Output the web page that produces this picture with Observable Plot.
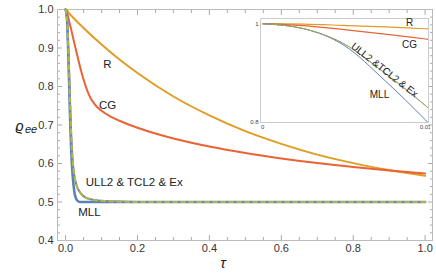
<!DOCTYPE html>
<html>
<head>
<meta charset="utf-8">
<script src="https://cdn.jsdelivr.net/npm/d3@7"></script>
<script src="https://cdn.jsdelivr.net/npm/@observablehq/plot@0.6"></script>
<style>
  html, body { margin: 0; padding: 0; background: white; }
  #wrap { position: relative; width: 436px; height: 276px; }
  #inset { position: absolute; left: 245px; top: 14px; }
</style>
</head>
<body>
<div id="wrap"><div id="main"></div><div id="inset"></div></div>
<script>
// ---- data ----
const tauR = [0, 0.0025, 0.005, 0.0075, 0.01, 0.02, 0.05, 0.1, 0.15, 0.2, 0.3, 0.4, 0.5, 0.6, 0.7, 0.8, 0.9, 1.0];
const rhoR = [1, 0.9992, 0.9965, 0.9935, 0.9898, 0.980, 0.952, 0.909, 0.870, 0.835, 0.774, 0.725, 0.684, 0.651, 0.623, 0.601, 0.583, 0.568];

const tauCG = [0, 0.0025, 0.005, 0.0075, 0.01, 0.015, 0.02, 0.03, 0.04, 0.05, 0.06, 0.07, 0.08, 0.1, 0.125, 0.15, 0.2, 0.25, 0.3, 0.4, 0.5, 0.6, 0.7, 0.8, 0.9, 1.0];
const rhoCG = [1, 0.996, 0.988, 0.979, 0.969, 0.950, 0.930, 0.890, 0.852, 0.818, 0.790, 0.769, 0.755, 0.737, 0.722, 0.711, 0.693, 0.678, 0.665, 0.644, 0.627, 0.613, 0.601, 0.591, 0.582, 0.574];

const tauULL2 = [0, 0.0025, 0.005, 0.0075, 0.01, 0.0125, 0.015, 0.0175, 0.02, 0.025, 0.03, 0.04, 0.05, 0.07, 0.1, 0.15, 0.2, 0.3, 0.5, 0.75, 1.0];
const rhoULL2 = [1, 0.990, 0.959, 0.900, 0.834, 0.760, 0.690, 0.640, 0.605, 0.565, 0.545, 0.525, 0.515, 0.507, 0.503, 0.501, 0.5, 0.5, 0.5, 0.5, 0.5];

const tauMLL = [0, 0.0025, 0.005, 0.0075, 0.01, 0.0125, 0.015, 0.0175, 0.02, 0.025, 0.03, 0.035, 0.04, 0.1, 0.5, 1.0];
const rhoMLL = [1, 0.990, 0.956, 0.885, 0.805, 0.720, 0.650, 0.600, 0.565, 0.523, 0.507, 0.502, 0.5, 0.5, 0.5, 0.5];

const xMajor = [0, 0.2, 0.4, 0.6, 0.8, 1.0];
const xMinor = [0.05, 0.1, 0.15, 0.25, 0.3, 0.35, 0.45, 0.5, 0.55, 0.65, 0.7, 0.75, 0.85, 0.9, 0.95];
const yMajor = [0.4, 0.5, 0.6, 0.7, 0.8, 0.9, 1.0];
const yMinor = [0.42, 0.44, 0.46, 0.48, 0.52, 0.54, 0.56, 0.58, 0.62, 0.64, 0.66, 0.68, 0.72, 0.74, 0.76, 0.78, 0.82, 0.84, 0.86, 0.88, 0.92, 0.94, 0.96, 0.98];

const insetXTicks = [0, 0.01];
const insetYTicks = [0.8, 1.0];

const mainCenterLabels = [{t: 0.116, v: 0.858, s: "R"}, {t: 0.117, v: 0.752, s: "CG"}];
const mainStartLabels = [{t: 0.056, v: 0.551, s: "ULL2 & TCL2 & Ex"}, {t: 0.035, v: 0.473, s: "MLL"}];
const insetLabels = [{t: 0.00902, v: 1.002, s: "R"}, {t: 0.00902, v: 0.957, s: "CG"}, {t: 0.00717, v: 0.856, s: "MLL"}];
const insetRotLabel = [{t: 0.00748, v: 0.906, s: "ULL2 &TCL2 & Ex"}];

const xLabel = "τ";
const yLabelMain = "ϱ";
const yLabelSub = "ee";

// ---- build tables ----
const zip = (ts, vs) => ts.map((t, i) => ({t, v: vs[i]}));
const dR = zip(tauR, rhoR), dCG = zip(tauCG, rhoCG), dU = zip(tauULL2, rhoULL2), dM = zip(tauMLL, rhoMLL);

const C = {R: "#E19C24", CG: "#EB6235", MLL: "#5E81B5", ULL: "#8778B3", TCL: "#A5C03A"};
const font = "Liberation Sans, Arial, sans-serif";
const tickColor = "#aaa";

const main = Plot.plot({
  width: 436, height: 276,
  marginLeft: 57, marginRight: 4, marginTop: 9, marginBottom: 36,
  x: {domain: [-0.0225, 1.0205]},
  y: {domain: [0.4, 1.0]},
  style: {fontFamily: font, fontSize: "11px", color: "#333", background: "white"},
  marks: [
    // frame ticks (inward)
    Plot.axisX(xMajor, {anchor: "bottom", tickSize: 5, dy: -5, fill: "none", stroke: tickColor, label: null}),
    Plot.axisX(xMinor, {anchor: "bottom", tickSize: 3, dy: -3, fill: "none", stroke: tickColor, label: null}),
    Plot.axisX(xMajor, {anchor: "top", tickSize: 5, dy: 5, fill: "none", stroke: tickColor, label: null}),
    Plot.axisX(xMinor, {anchor: "top", tickSize: 3, dy: 3, fill: "none", stroke: tickColor, label: null}),
    Plot.axisY(yMajor, {anchor: "left", tickSize: 5, dx: 5, fill: "none", stroke: tickColor, label: null}),
    Plot.axisY(yMinor, {anchor: "left", tickSize: 3, dx: 3, fill: "none", stroke: tickColor, label: null}),
    Plot.axisY(yMajor, {anchor: "right", tickSize: 5, dx: -5, fill: "none", stroke: tickColor, label: null}),
    Plot.axisY(yMinor, {anchor: "right", tickSize: 3, dx: -3, fill: "none", stroke: tickColor, label: null}),
    // tick labels
    Plot.axisX(xMajor, {anchor: "bottom", tickSize: 0, tickPadding: 4, tickFormat: d => d.toFixed(1), label: null, fill: "#333"}),
    Plot.axisY(yMajor, {anchor: "left", tickSize: 0, tickPadding: 4, tickFormat: d => d.toFixed(1), label: null, fill: "#333"}),
    Plot.frame({stroke: "#bbb"}),
    // curves
    Plot.line(dR, {x: "t", y: "v", stroke: C.R, strokeWidth: 2, curve: "monotone-x"}),
    Plot.line(dCG, {x: "t", y: "v", stroke: C.CG, strokeWidth: 2, curve: "monotone-x"}),
    Plot.line(dM, {x: "t", y: "v", stroke: C.MLL, strokeWidth: 2.6, curve: "monotone-x"}),
    Plot.line(dU, {x: "t", y: "v", stroke: C.ULL, strokeWidth: 2, curve: "monotone-x"}),
    Plot.line(dU, {x: "t", y: "v", stroke: C.TCL, strokeWidth: 2, strokeDasharray: "4,4", curve: "monotone-x"}),
    // curve labels
    Plot.text(mainCenterLabels, {x: "t", y: "v", text: "s", fontSize: 11.5, fill: "#222"}),
    Plot.text(mainStartLabels, {x: "t", y: "v", text: "s", fontSize: 11.5, fill: "#222", textAnchor: "start"}),
    // axis labels
    Plot.text([xLabel], {text: d => d, frameAnchor: "bottom", dx: -22, dy: 27, fontSize: 15, fontStyle: "italic", fill: "#222"}),
    Plot.text([yLabelMain], {text: d => d, frameAnchor: "left", dx: -42, dy: 2, fontSize: 14, fontStyle: "italic", fill: "#222"}),
    Plot.text([yLabelSub], {text: d => d, frameAnchor: "left", dx: -32.5, dy: 4, fontSize: 11, fontStyle: "italic", fill: "#222"})
  ]
});
document.getElementById("main").appendChild(main);

const inset = Plot.plot({
  width: 185, height: 121,
  marginLeft: 15, marginRight: 2, marginTop: 4, marginBottom: 13,
  x: {domain: [-0.00014, 0.01018]},
  y: {domain: [0.8, 1.0105]},
  style: {fontFamily: font, fontSize: "6px", color: "#444", background: "transparent"},
  marks: [
    Plot.frame({fill: "white", stroke: "#ccc"}),
    Plot.axisX(insetXTicks, {anchor: "bottom", tickSize: 0, tickPadding: 2, tickFormat: d => String(d), label: null}),
    Plot.axisY(insetYTicks, {anchor: "left", tickSize: 0, tickPadding: 2, tickFormat: d => String(d), label: null}),
    Plot.line(dR, {x: "t", y: "v", stroke: C.R, strokeWidth: 1.2, curve: "monotone-x", clip: true}),
    Plot.line(dCG, {x: "t", y: "v", stroke: C.CG, strokeWidth: 1.2, curve: "monotone-x", clip: true}),
    Plot.line(dM, {x: "t", y: "v", stroke: C.MLL, strokeWidth: 1, curve: "monotone-x", clip: true}),
    Plot.line(dU, {x: "t", y: "v", stroke: C.ULL, strokeWidth: 1, curve: "monotone-x", clip: true}),
    Plot.line(dU, {x: "t", y: "v", stroke: C.TCL, strokeWidth: 1, strokeDasharray: "2,2", curve: "monotone-x", clip: true}),
    Plot.text(insetLabels, {x: "t", y: "v", text: "s", fontSize: 10, fill: "#222"}),
    Plot.text(insetRotLabel, {x: "t", y: "v", text: "s", fontSize: 10, fill: "#222", rotate: 38})
  ]
});
document.getElementById("inset").appendChild(inset);
</script>
</body>
</html>
